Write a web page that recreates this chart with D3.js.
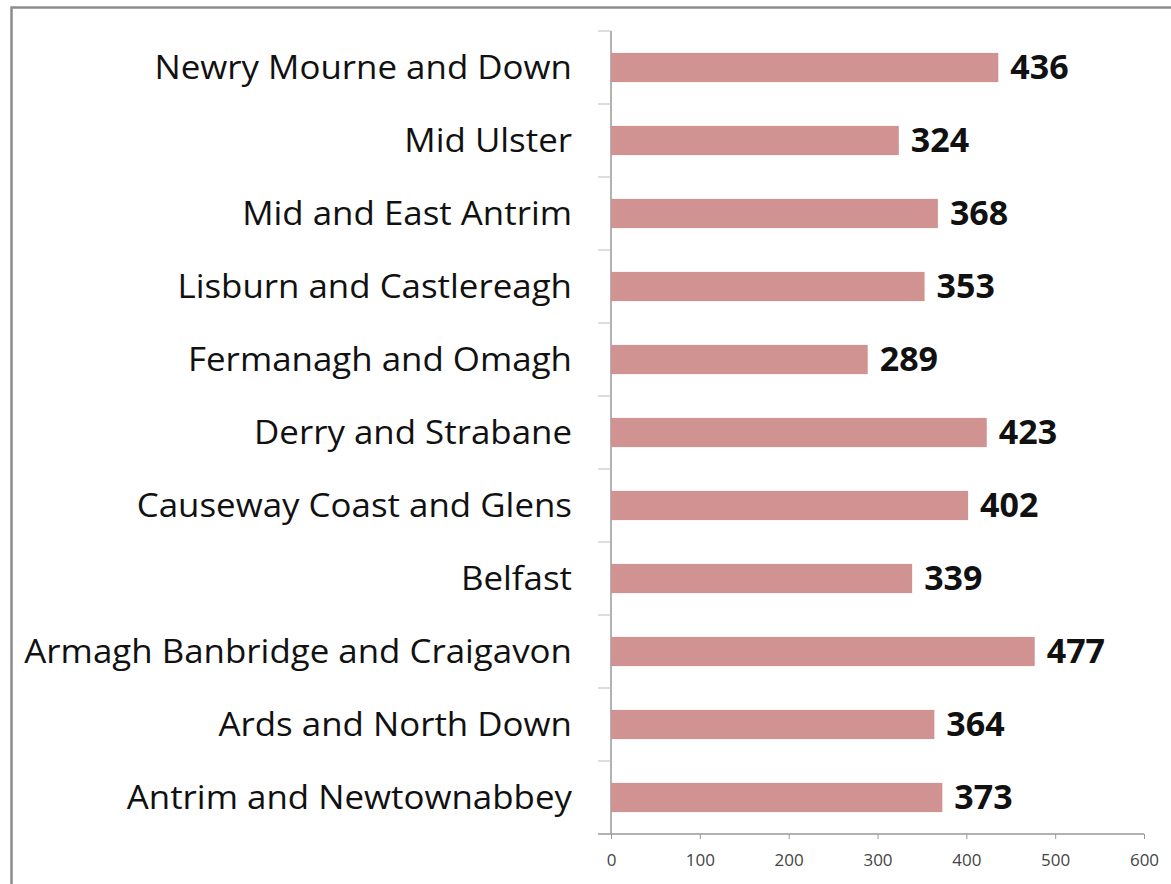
<!DOCTYPE html>
<html>
<head>
<meta charset="utf-8">
<script src="https://cdn.jsdelivr.net/npm/d3@7"></script>
<style>
  body { margin: 0; background: #fff; }
  .cat { font-family: "Open Sans", sans-serif; font-size: 32px; fill: #111; }
  .val { font-family: "Open Sans", sans-serif; font-size: 34px; font-weight: bold; fill: #111; }
  .x.axis text { font-family: "Open Sans", sans-serif; font-size: 17px; fill: #444; }
</style>
</head>
<body>
<div id="chart"></div>
<script>
// Categories, top to bottom as shown.
const districts = [
	"Newry Mourne and Down",
	"Mid Ulster",
	"Mid and East Antrim",
	"Lisburn and Castlereagh",
	"Fermanagh and Omagh",
	"Derry and Strabane",
	"Causeway Coast and Glens",
	"Belfast",
	"Armagh Banbridge and Craigavon",
	"Ards and North Down",
	"Antrim and Newtownabbey"
];
const values = [436, 324, 368, 353, 289, 423, 402, 339, 477, 364, 373];
const xTicks = [0, 100, 200, 300, 400, 500, 600];

// Dimensions of chart.
const W = 1171, H = 884;
let margin = { top: 31, left: 611 },
	width = 533,
	height = 803;

let svg = d3.select("#chart").append("svg")
	.attr("width", W)
	.attr("height", H);

// Outer frame (runs off the right and bottom edge)
svg.append("rect")
	.attr("x", 11.5).attr("y", 7.5)
	.attr("width", 1300).attr("height", 1000)
	.attr("fill", "none")
	.attr("stroke", "#8c8c8c")
	.attr("stroke-width", 2.5);

let g = svg.append("g")
	.attr("transform", "translate(" + margin.left + "," + margin.top + ")");

// Scales
let x = d3.scaleLinear()
	.domain([0, 600])
	.range([0, width]);

let y = d3.scaleBand()
	.domain(districts)
	.range([0, height])
	.paddingInner(0.6)
	.paddingOuter(0.3);

// x-axis
let xAxis = d3.axisBottom(x)
	.tickValues(xTicks)
	.tickSize(5)
	.tickPadding(15)
	.tickSizeOuter(0);
let xAxisEl = g.append("g")
	.attr("class", "x axis")
	.attr("transform", "translate(0," + height + ")")
	.call(xAxis);
xAxisEl.select(".domain").remove();
xAxisEl.selectAll("line").attr("stroke", "#999");
xAxisEl.append("line")
	.attr("x1", -13).attr("x2", width)
	.attr("stroke", "#999").attr("stroke-width", 1.5);

// y-axis: line plus tick marks at band boundaries
let yAxisEl = g.append("g").attr("class", "y axis");
yAxisEl.append("line")
	.attr("y1", 0).attr("y2", height)
	.attr("stroke", "#999").attr("stroke-width", 1.5);
yAxisEl.selectAll("line.tick")
	.data(d3.range(districts.length))
	.join("line")
	.attr("class", "tick")
	.attr("x1", -13).attr("x2", 0)
	.attr("y1", i => i * y.step())
	.attr("y2", i => i * y.step())
	.attr("stroke", "#bbb");

// category labels (slightly widened, like the source)
g.selectAll("g.catlabel")
	.data(districts)
	.join("g")
	.attr("class", "catlabel")
	.attr("transform", d => "translate(-39," + (y(d) + y.bandwidth() / 2) + ") scale(1.09,1)")
  .append("text")
	.attr("class", "cat")
	.attr("dy", "0.35em")
	.attr("text-anchor", "end")
	.text(d => d);

// bars
let rows = districts.map((d, i) => ({ name: d, value: values[i] }));
g.selectAll("rect.bar")
	.data(rows)
	.join("rect")
	.attr("class", "bar")
	.attr("x", 0)
	.attr("y", d => y(d.name))
	.attr("width", d => x(d.value))
	.attr("height", y.bandwidth())
	.attr("fill", "#d19391");

// value labels
g.selectAll("text.val")
	.data(rows)
	.join("text")
	.attr("class", "val")
	.attr("x", d => x(d.value) + 12)
	.attr("y", d => y(d.name) + y.bandwidth() / 2)
	.attr("dy", "0.33em")
	.text(d => d.value);
</script>
</body>
</html>
